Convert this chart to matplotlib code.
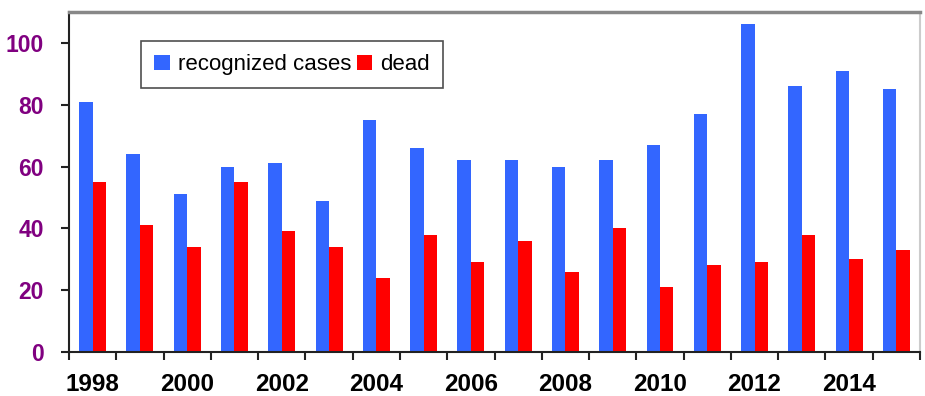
import numpy as np
import matplotlib.pyplot as plt
from matplotlib.ticker import FixedLocator, NullFormatter, FixedFormatter

plt.rcParams['font.family'] = ['Liberation Sans', 'DejaVu Sans']

years = list(range(1998, 2016))
recognized = [81, 64, 51, 60, 61, 49, 75, 66, 62, 62, 60, 62, 67, 77, 106, 86, 91, 85]
dead = [55, 41, 34, 55, 39, 34, 24, 38, 29, 36, 26, 40, 21, 28, 29, 38, 30, 33]

x = np.arange(len(years))
w = 0.285

fig = plt.figure(figsize=(9.25, 3.96), dpi=100)
ax = fig.add_axes([0.0746, 0.111, 0.92, 0.859])

ax.bar(x - w / 2, recognized, w, color='#3366FF', label='recognized cases')
ax.bar(x + w / 2, dead, w, color='#FF0000', label='dead')

ax.set_xlim(-0.5, len(years) - 0.5)
ax.set_ylim(0, 110)

# boundary ticks between years, labels on even years at bar centres
ax.xaxis.set_major_locator(FixedLocator(np.arange(-0.5, len(years), 1.0)))
ax.xaxis.set_major_formatter(NullFormatter())
even = [i for i, y in enumerate(years) if y % 2 == 0]
ax.xaxis.set_minor_locator(FixedLocator(even))
ax.xaxis.set_minor_formatter(FixedFormatter([str(years[i]) for i in even]))
ax.tick_params(axis='x', which='major', direction='out', length=6, width=1.5, color='#222222')
ax.tick_params(axis='x', which='minor', length=0, pad=15, labelsize=17.5)
for lbl in ax.get_xticklabels(minor=True):
    lbl.set_fontweight('bold')

ax.set_yticks([0, 20, 40, 60, 80, 100])
ax.tick_params(axis='y', direction='out', length=6, width=1.5, color='#222222',
               labelsize=16.5, labelcolor='#800080', pad=12)
for lbl in ax.get_yticklabels():
    lbl.set_fontweight('bold')

ax.spines['left'].set_linewidth(1.5)
ax.spines['left'].set_color('#222222')
ax.spines['bottom'].set_linewidth(1.5)
ax.spines['bottom'].set_color('#222222')
ax.spines['top'].set_linewidth(2.5)
ax.spines['top'].set_color('#888888')
ax.spines['right'].set_linewidth(1.5)
ax.spines['right'].set_color('#cccccc')

leg = ax.legend(loc='upper left', bbox_to_anchor=(0.0845, 0.915), ncol=2, fontsize=16,
                frameon=True, fancybox=False, edgecolor='#222222',
                handlelength=0.7, handleheight=0.7, handletextpad=0.35,
                columnspacing=0.25, borderpad=0.6, borderaxespad=0)
leg.get_frame().set_linewidth(1.2)

fig.savefig('out.png', dpi=100)
